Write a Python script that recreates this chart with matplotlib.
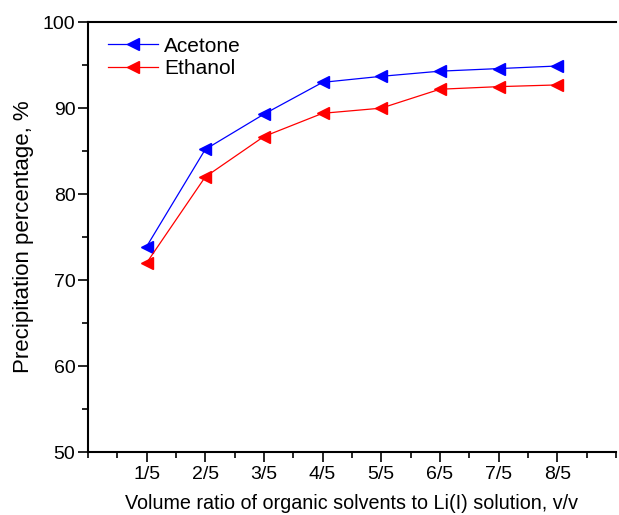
import matplotlib
matplotlib.use('Agg')
import matplotlib.pyplot as plt
from matplotlib.ticker import MultipleLocator

ratios = ['1/5', '2/5', '3/5', '4/5', '5/5', '6/5', '7/5', '8/5']
acetone = [73.9, 85.2, 89.3, 93.0, 93.7, 94.3, 94.6, 94.9]
ethanol = [72.0, 82.0, 86.7, 89.4, 90.0, 92.2, 92.5, 92.7]

plt.rcParams['font.family'] = ['Liberation Sans', 'DejaVu Sans']

fig = plt.figure(figsize=(6.19, 5.15), dpi=100)
ax = fig.add_axes([0.142, 0.122, 0.853, 0.835])

x = list(range(1, len(ratios) + 1))
ax.plot(x, acetone, color='blue', marker='<', markersize=9, linewidth=0.9, label='Acetone')
ax.plot(x, ethanol, color='red', marker='<', markersize=9, linewidth=0.9, label='Ethanol')

ax.set_xlim(0, 9)
ax.set_ylim(50, 100)
ax.set_xticks(x)
ax.set_xticklabels(ratios)
ax.xaxis.set_minor_locator(MultipleLocator(0.5))
ax.yaxis.set_major_locator(MultipleLocator(10))
ax.yaxis.set_minor_locator(MultipleLocator(5))
ax.tick_params(which='major', direction='out', length=7, width=1.2, labelsize=14)
ax.tick_params(which='minor', direction='out', length=4, width=1.2)
ax.tick_params(axis='x', pad=3)
ax.tick_params(axis='y', pad=2)

for s in ['left', 'bottom', 'top']:
    ax.spines[s].set_linewidth(1.5)
ax.spines['right'].set_visible(False)

ax.set_xlabel('Volume ratio of organic solvents to Li(I) solution, v/v', fontsize=14.2, labelpad=8)
ax.set_ylabel('Precipitation percentage, %', fontsize=16, labelpad=6)

ax.legend(loc='upper left', frameon=False, fontsize=15, handlelength=2.4,
          handletextpad=0.3, labelspacing=0.15, borderaxespad=0.3, bbox_to_anchor=(0.01, 1.0))

fig.savefig('out.png', dpi=100)
